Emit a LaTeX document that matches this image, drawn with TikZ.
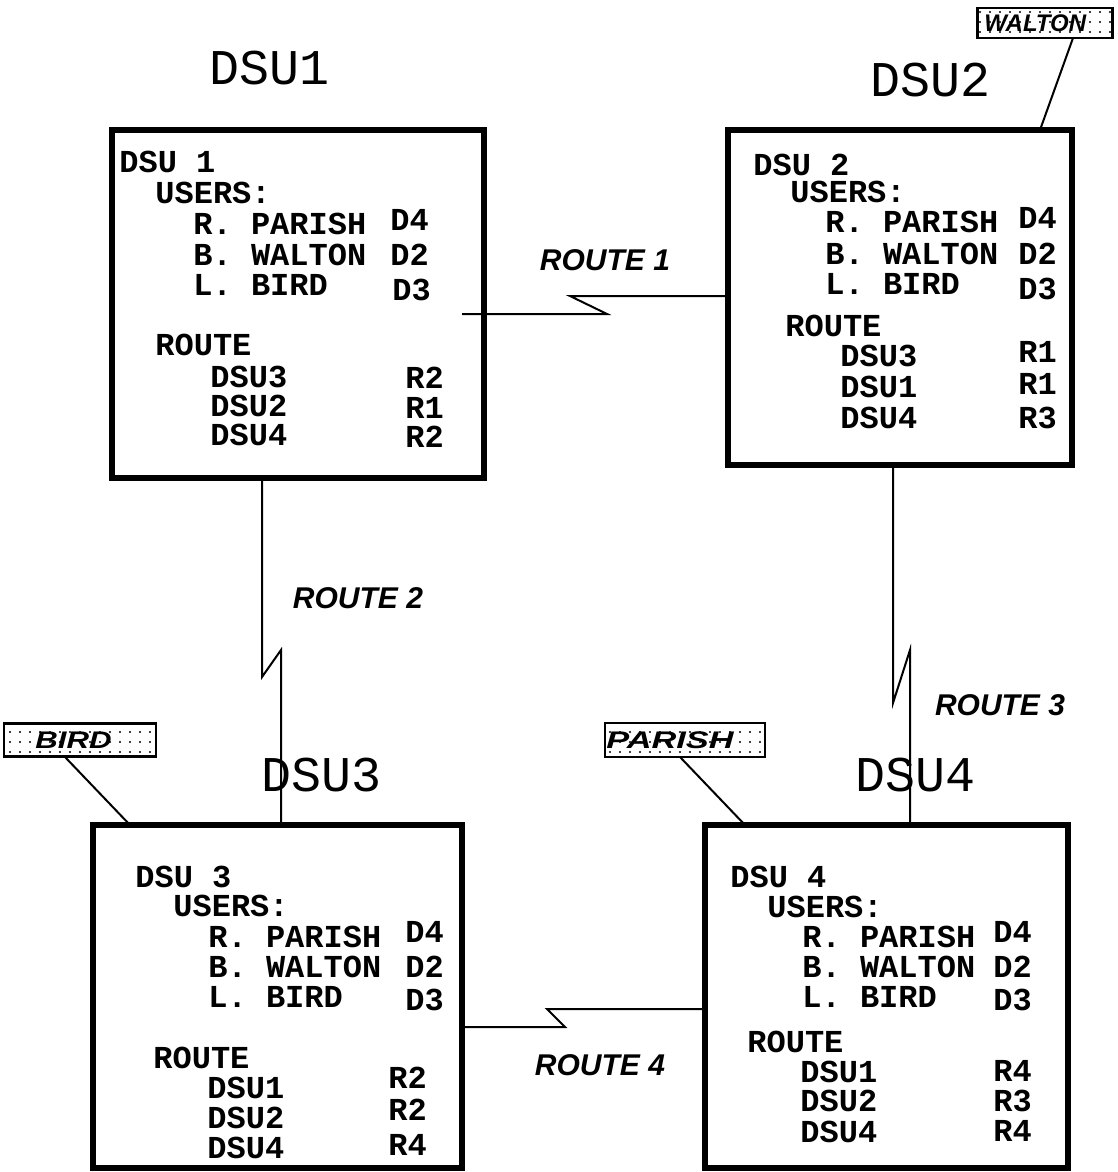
\documentclass[tikz,border=0pt]{standalone}
\usepackage{fontspec}
\setmainfont{Liberation Serif}
\newfontfamily\monofam{Liberation Mono}
\newfontfamily\sansfam{Liberation Sans}
\usetikzlibrary{patterns.meta}
\tikzset{
  dsubox/.style={draw, line width=3pt, inner sep=0pt, outer sep=0pt},
  dsutitle/.style={inner sep=0pt, font=\monofam\fontsize{25}{28}\selectfont},
  bt/.style={anchor=west, inner sep=0pt, font=\monofam\bfseries\fontsize{16}{18}\selectfont},
  routelab/.style={inner sep=0pt, font=\sansfam\bfseries\itshape\fontsize{15}{17}\selectfont},
  tagbox/.style={draw, line width=1.2pt, inner sep=0pt, outer sep=0pt,
    pattern={Dots[distance=5pt, radius=0.55pt]}},
  tagtext/.style={anchor=west, inner sep=0pt, font=\sansfam\bfseries\itshape\fontsize{12}{14}\selectfont},
  link/.style={line width=1pt},
}
\newcommand\bxt[3]{\node[bt] (#1) at (#2) {#3};}
\begin{document}
\begin{tikzpicture}[x=0.5pt,y=-0.5pt]
\useasboundingbox (0,0) rectangle (1118,1172);

% titles
\node[dsutitle] (ti1) at (270,68) {DSU1};
\node[dsutitle] (ti2) at (930,80) {DSU2};
\node[dsutitle] (ti3) at (322,775) {DSU3};
\node[dsutitle] (ti4) at (915,775) {DSU4};

% boxes
\node[dsubox, minimum width=186pt, minimum height=174pt] (b1) at (298,304) {};
\node[dsubox, minimum width=172pt, minimum height=167.5pt] (b2) at (900,297.5) {};
\node[dsubox, minimum width=184.5pt, minimum height=171.5pt] (b3) at (277.5,996.5) {};
\node[dsubox, minimum width=181.5pt, minimum height=171.5pt] (b4) at (886.5,996.5) {};

% box 1 text
\bxt{a0}{119,162}{DSU 1}
\bxt{a1}{155,193}{USERS:}
\bxt{a2}{193,224}{R. PARISH}
\bxt{a3}{390,220}{D4}
\bxt{a4}{193,255}{B. WALTON}
\bxt{a5}{390,255}{D2}
\bxt{a6}{193,285}{L. BIRD}
\bxt{a7}{392,290}{D3}
\bxt{a8}{155,345}{ROUTE}
\bxt{a9}{210,377}{DSU3}
\bxt{a10}{405,378}{R2}
\bxt{a11}{210,406}{DSU2}
\bxt{a12}{405,408}{R1}
\bxt{a13}{210,435}{DSU4}
\bxt{a14}{405,437}{R2}

% box 2 text
\bxt{c0}{753,165}{DSU 2}
\bxt{c1}{790,192}{USERS:}
\bxt{c2}{825,222}{R. PARISH}
\bxt{c3}{1018,218}{D4}
\bxt{c4}{825,254}{B. WALTON}
\bxt{c5}{1018,254}{D2}
\bxt{c6}{825,284}{L. BIRD}
\bxt{c7}{1018,289}{D3}
\bxt{c8}{785,326}{ROUTE}
\bxt{c9}{840,356}{DSU3}
\bxt{c10}{1018,352}{R1}
\bxt{c11}{840,387}{DSU1}
\bxt{c12}{1018,384}{R1}
\bxt{c13}{840,418}{DSU4}
\bxt{c14}{1018,418}{R3}

% box 3 text
\bxt{e0}{135,877}{DSU 3}
\bxt{e1}{173,906}{USERS:}
\bxt{e2}{208,937}{R. PARISH}
\bxt{e3}{405,932}{D4}
\bxt{e4}{208,967}{B. WALTON}
\bxt{e5}{405,967}{D2}
\bxt{e6}{208,997}{L. BIRD}
\bxt{e7}{405,1000}{D3}
\bxt{e8}{153,1058}{ROUTE}
\bxt{e9}{207,1088}{DSU1}
\bxt{e10}{388,1078}{R2}
\bxt{e11}{207,1118}{DSU2}
\bxt{e12}{388,1110}{R2}
\bxt{e13}{207,1148}{DSU4}
\bxt{e14}{388,1145}{R4}

% box 4 text
\bxt{g0}{730,877}{DSU 4}
\bxt{g1}{767,907}{USERS:}
\bxt{g2}{802,937}{R. PARISH}
\bxt{g3}{993,932}{D4}
\bxt{g4}{802,967}{B. WALTON}
\bxt{g5}{993,967}{D2}
\bxt{g6}{802,997}{L. BIRD}
\bxt{g7}{993,1000}{D3}
\bxt{g8}{747,1042}{ROUTE}
\bxt{g9}{800,1072}{DSU1}
\bxt{g10}{993,1071}{R4}
\bxt{g11}{800,1101}{DSU2}
\bxt{g12}{993,1101}{R3}
\bxt{g13}{800,1132}{DSU4}
\bxt{g14}{993,1131}{R4}

% route 1
\coordinate (r1s) at (462,314);
\coordinate (r1a) at (607,314);
\coordinate (r1b) at (570,296);
\draw[link] (r1s) -- (r1a) -- (r1b) -- (b2.west |- r1b);
\node[routelab] (l1) at (605,260) {ROUTE 1};

% route 2
\coordinate (r2s) at (262,478);
\coordinate (r2a) at (262,677);
\coordinate (r2b) at (281,650);
\draw[link] (b1.south -| r2s) -- (r2a) -- (r2b) -- (b3.north -| r2b);
\node[routelab] (l2) at (358,598) {ROUTE 2};

% route 3
\coordinate (r3s) at (893,465);
\coordinate (r3a) at (893,703);
\coordinate (r3b) at (910,650);
\draw[link] (b2.south -| r3s) -- (r3a) -- (r3b) -- (b4.north -| r3b);
\node[routelab] (l3) at (1000,705) {ROUTE 3};

% route 4
\coordinate (r4s) at (463,1027);
\coordinate (r4a) at (565,1027);
\coordinate (r4b) at (547,1009);
\draw[link] (b3.east |- r4s) -- (r4a) -- (r4b) -- (b4.west |- r4b);
\node[routelab] (l4) at (600,1065) {ROUTE 4};

% tags
\node[tagbox, minimum width=67.5pt, minimum height=15pt] (tw) at (1045,23) {};
\node[tagtext] (twt) at (984,23) {WALTON};
\coordinate (tws) at (1073,38);
\draw[link] (tws) -- (b2.north -| 1040,0);

\node[tagbox, minimum width=76pt, minimum height=16.5pt] (tb) at (80,740) {};
\node[tagtext] (tbt) at (35,740) {\scalebox{1.3}[1]{BIRD}};
\coordinate (tbs) at (65,757);
\draw[link] (tbs) -- (b3.north -| 130,0);

\node[tagbox, minimum width=80pt, minimum height=17pt] (tp) at (685,740) {};
\node[tagtext] (tpt) at (606,740) {\scalebox{1.43}[1]{PARISH}};
\coordinate (tps) at (680,757);
\draw[link] (tps) -- (b4.north -| 745,0);
\end{tikzpicture}
\end{document}
